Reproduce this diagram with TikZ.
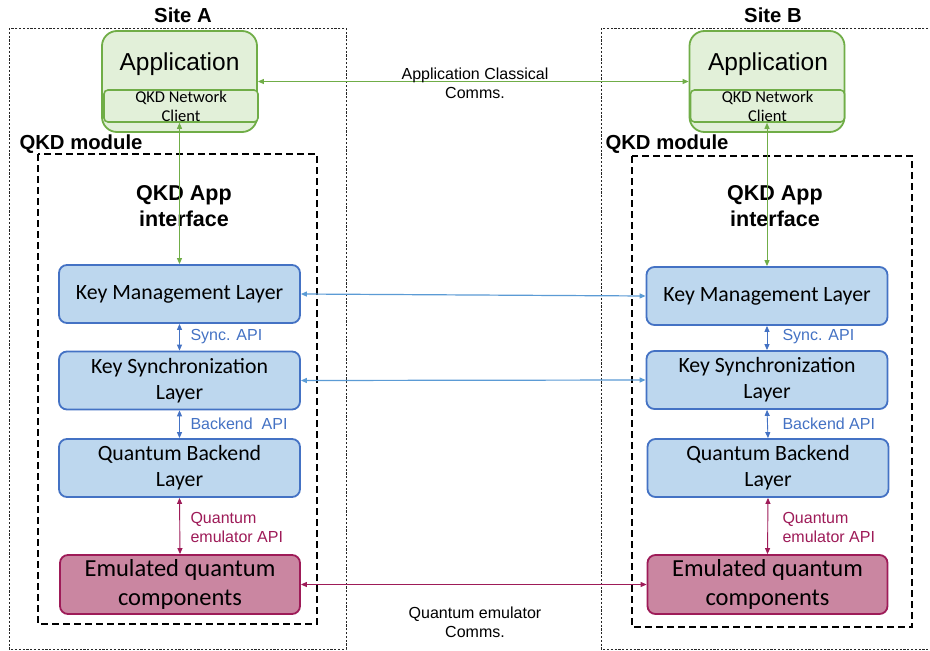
\documentclass[tikz,border=0pt]{standalone}
\usepackage{fontspec}
\setmainfont{Liberation Sans}
\newfontfamily\carlitofont{Carlito}
\usetikzlibrary{arrows.meta}
\definecolor{gfill}{HTML}{E2F0D9}
\definecolor{gline}{HTML}{70AD47}
\definecolor{bfill}{HTML}{BDD7EE}
\definecolor{bline}{HTML}{4472C4}
\definecolor{lblue}{HTML}{5B9BD5}
\definecolor{pfill}{HTML}{CA86A1}
\definecolor{pline}{HTML}{9E1B58}
\begin{document}
\begin{tikzpicture}[x=1pt,y=-1pt,
  sitebox/.style={draw=black!85,line width=0.8pt,dash pattern=on 2.2pt off 1.6pt},
  modbox/.style={draw=black,line width=2.6pt,dash pattern=on 7pt off 4pt},
  appbox/.style={draw=gline,fill=gfill,line width=1.8pt,rounded corners=15pt,minimum width=155pt,minimum height=101pt,inner sep=0pt},
  clientbox/.style={draw=gline,fill=gfill,line width=1.6pt,rounded corners=4pt,minimum width=154pt,minimum height=32pt,inner sep=0pt,align=center,font=\carlitofont\fontsize{16.5}{19}\selectfont},
  layer/.style={draw=bline,fill=bfill,line width=1.8pt,rounded corners=8pt,minimum width=241pt,minimum height=58pt,inner sep=0pt,align=center,font=\carlitofont\fontsize{21.8}{26}\selectfont},
  emu/.style={draw=pline,fill=pfill,line width=1.8pt,rounded corners=8pt,minimum width=240pt,minimum height=59pt,inner sep=0pt,align=center,font=\carlitofont\fontsize{24.5}{29}\selectfont},
  title/.style={font=\bfseries\fontsize{20.3}{24}\selectfont},
  lbl/.style={font=\fontsize{16}{19}\selectfont,align=center},
  bl/.style={font=\fontsize{16}{19}\selectfont,text=bline,anchor=west,align=left},
  pl/.style={font=\fontsize{16}{19}\selectfont,text=pline,anchor=west,align=left},
  tip/.style={{Triangle[length=6pt,width=5pt]}-{Triangle[length=6pt,width=5pt]}},
  gconn/.style={tip,draw=gline,line width=0.9pt},
  bconn/.style={tip,draw=bline,line width=0.9pt},
  lbconn/.style={tip,draw=lblue,line width=1.2pt},
  pconn/.style={tip,draw=pline,line width=0.9pt}]
\useasboundingbox (0,0) rectangle (930,651);
\fill[white] (0,0) rectangle (930,651);
% site boxes
\draw[sitebox] (9,28) rectangle (346,649);
\draw[sitebox] (601,28) rectangle (934,649);
\node[title] (siteA) at (183,15) {Site A};
\node[title] (siteB) at (773,15) {Site B};
% QKD module boxes
\draw[modbox] (38,154) rectangle (317,624);
\draw[modbox] (632,156) rectangle (912,627);
\node[title,anchor=west] (modA) at (16,144) {QKD module};
\node[title,anchor=west] (modB) at (602,144) {QKD module};
\node[title,align=center,font=\bfseries\fontsize{21.5}{26}\selectfont] (ifA) at (184,206) {QKD App\\interface};
\node[title,align=center,font=\bfseries\fontsize{21.5}{26}\selectfont] (ifB) at (775,206) {QKD App\\interface};
% applications
\node[appbox] (appA) at (179.5,81.5) {};
\node[anchor=center,font=\fontsize{24.5}{28}\selectfont] at (179.5,64) {Application};
\node[clientbox] (clientA) at (181,106) {QKD Network\\Client};
\node[appbox] (appB) at (767,81.5) {};
\node[anchor=center,font=\fontsize{24.5}{28}\selectfont] at (768,64) {Application};
\node[clientbox] (clientB) at (767.5,106) {QKD Network\\Client};
% layers A
\node[layer] (kmlA) at (179.5,294) {Key Management Layer};
\node[layer] (kslA) at (179.5,380.5) {Key Synchronization\\Layer};
\node[layer] (qblA) at (179.5,468) {Quantum Backend\\Layer};
\node[emu] (emuA) at (180,584.5) {Emulated quantum\\components};
% layers B
\node[layer] (kmlB) at (767,296) {Key Management Layer};
\node[layer] (kslB) at (767,380) {Key Synchronization\\Layer};
\node[layer] (qblB) at (768,468) {Quantum Backend\\Layer};
\node[emu] (emuB) at (767.5,584.5) {Emulated quantum\\components};
% vertical connectors A
\draw[gconn] (clientA.south -| kmlA.north) -- (kmlA.north);
\draw[bconn] (kmlA.south) -- (kslA.north);
\draw[bconn] (kslA.south) -- (qblA.north);
\draw[pconn] (qblA.south) -- (emuA.north);
% vertical connectors B
\draw[gconn] (clientB.south -| kmlB.north) -- (kmlB.north);
\draw[bconn] (kmlB.south) -- (kslB.north);
\draw[bconn] (kslB.south) -- (qblB.north);
\draw[pconn] (qblB.south) -- (emuB.north);
% labels
\node[bl] (sA) at (187,337) {Sync. API};
\node[bl] (bA) at (187,424) {Backend\ \ API};
\node[pl] (qA) at (187,527) {Quantum\\emulator API};
\node[bl] (sB) at (779,337) {Sync. API};
\node[bl] (bB) at (779,424) {Backend API};
\node[pl] (qB) at (779,527) {Quantum\\emulator API};
% horizontal connectors
\draw[gconn] (appA.east) -- (appB.west);
\draw[lbconn] (kmlA.east) -- (kmlB.west);
\draw[lbconn] (kslA.east) -- (kslB.west);
\draw[pconn] (emuA.east) -- (emuB.west);
\node[lbl] (appcomms) at (475,83) {Application Classical\\Comms.};
\node[lbl] (qcomms) at (475,622) {Quantum emulator\\Comms.};
\end{tikzpicture}
\end{document}
